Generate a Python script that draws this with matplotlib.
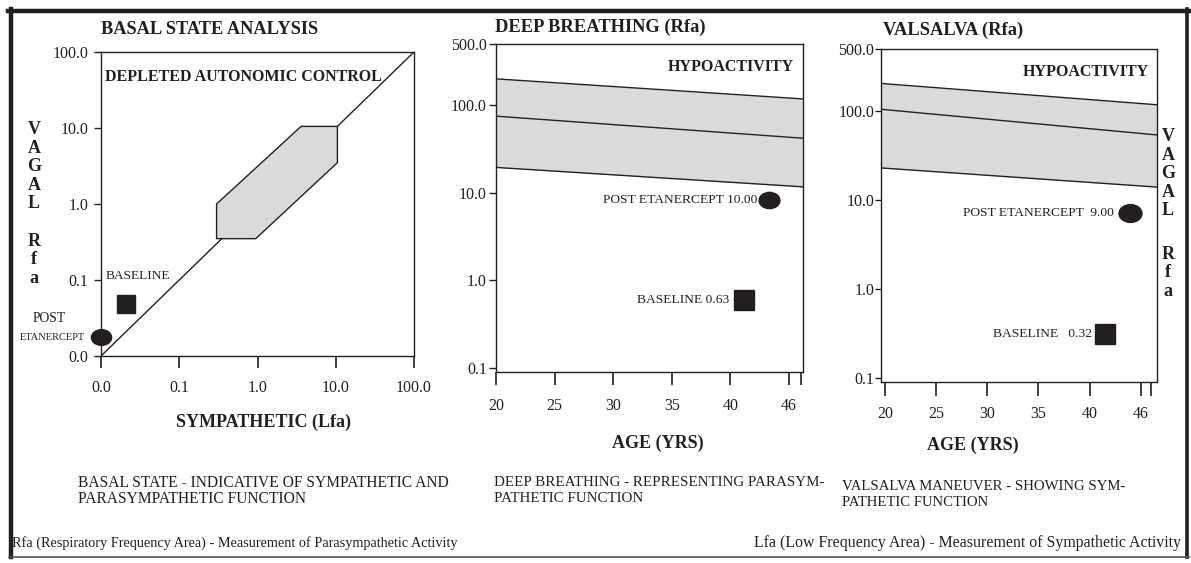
import matplotlib.pyplot as plt
from matplotlib.lines import Line2D
from matplotlib.path import Path
from matplotlib.ticker import NullLocator

plt.rcParams['font.family'] = ['Liberation Serif', 'DejaVu Serif']

W, H = 1191, 563
INK = '#231f20'
BAND = '#d9dadc'

# basal state (log-log, "0.0" is the 0.01 floor)
basal_ticks = [0.01, 0.1, 1.0, 10.0, 100.0]
basal_ticklabels = ['0.0', '0.1', '1.0', '10.0', '100.0']
identity_line = [0.01, 100.0]
normal_lfa = [0.3, 0.3, 0.95, 10.5, 10.5, 3.6]
normal_rfa = [1.0, 0.35, 0.35, 3.5, 10.5, 10.5]
basal_baseline = [0.021, 0.048]
basal_post = [0.01, 0.018]

# deep breathing / valsalva (Rfa vs age)
age_ticks = [20, 25, 30, 35, 40, 45, 46]
age_ticklabels = ['20', '25', '30', '35', '40', '46', '']
rfa_ticks = [0.1, 1.0, 10.0, 100.0, 500.0]
rfa_ticklabels = ['0.1', '1.0', '10.0', '100.0', '500.0']

deep_band_age = [20, 46.2]
deep_upper = [200, 118]
deep_mid = [75, 42]
deep_lower = [19.5, 11.7]
deep_age = [41.2, 43.3]
deep_rfa = [0.60, 8.2]
deep_values = [0.63, 10.00]

vals_band_age = [19.6, 46.6]
vals_upper = [205, 118]
vals_mid = [105, 54]
vals_lower = [23, 14]
vals_age = [41.5, 44.0]
vals_rfa = [0.31, 7.1]
vals_values = [0.32, 9.00]

circ = Path.unit_circle()
ellipse = Path(circ.vertices * [1.0, 0.78], circ.codes)


def fx(px):
    return px / W


def fy(py):
    return 1 - py / H


def axes_px(left, top, right, bottom):
    return fig.add_axes([fx(left), fy(bottom), (right - left) / W, (bottom - top) / H])


def style_axes(ax, ylen, xlen, ypad, xpad):
    for s in ax.spines.values():
        s.set_color(INK)
        s.set_linewidth(1.0)
    ax.xaxis.set_minor_locator(NullLocator())
    ax.yaxis.set_minor_locator(NullLocator())
    ax.tick_params(axis='y', direction='out', length=ylen, width=1, color=INK,
                   labelsize=11.5, labelcolor=INK, pad=ypad)
    ax.tick_params(axis='x', direction='out', length=xlen, width=1.2, color=INK,
                   labelsize=11.5, labelcolor=INK, pad=xpad)


def vagal(x, top, bottom):
    fig.text(fx(x), fy(top), '\n'.join('VAGAL'), ha='center', va='top', fontsize=13,
             fontweight='bold', color=INK, linespacing=1.12)
    fig.text(fx(x), fy(bottom), '\n'.join('Rfa'), ha='center', va='bottom', fontsize=13,
             fontweight='bold', color=INK, linespacing=1.12)


def caption(x, y, lines, size):
    # two caption lines, y = centre of first line in px
    for i, line in enumerate(lines):
        fig.text(fx(x), fy(y + 16 * i), line, ha='left', va='center', fontsize=size, color=INK)


fig = plt.figure(figsize=(W / 100, H / 100), dpi=100)

# frame
fig.add_artist(Line2D([fx(8), fx(1189)], [fy(10.5), fy(10.5)], transform=fig.transFigure, color=INK, lw=3.2))
fig.add_artist(Line2D([fx(10.5), fx(10.5)], [fy(9), fy(557)], transform=fig.transFigure, color=INK, lw=3.2))
fig.add_artist(Line2D([fx(1187), fx(1187)], [fy(9), fy(557)], transform=fig.transFigure, color=INK, lw=2.6))
fig.add_artist(Line2D([fx(9), fx(1189)], [fy(556.5), fy(556.5)], transform=fig.transFigure, color='#555555', lw=1.2))

# ---- basal state
ax1 = axes_px(101, 52, 414, 356)
ax1.set_xscale('log')
ax1.set_yscale('log')
ax1.set_xlim(0.01, 100)
ax1.set_ylim(0.01, 100)
ax1.plot(identity_line, identity_line, color=INK, lw=1, zorder=2)
ax1.fill(normal_lfa, normal_rfa, facecolor=BAND, edgecolor=INK, lw=1, zorder=3)
ax1.plot(basal_baseline[0], basal_baseline[1], marker='s', ms=13.5, color=INK, zorder=4)
ax1.plot(basal_post[0], basal_post[1], marker=ellipse, ms=14.5, color=INK, zorder=5, clip_on=False)
ax1.annotate('BASELINE', basal_baseline, xytext=(-15, 20), textcoords='offset points',
             ha='left', va='center', fontsize=9.6, color=INK)
ax1.annotate('POST', basal_post, xytext=(-37, 13), textcoords='offset points',
             ha='center', va='center', fontsize=9.8, color=INK, annotation_clip=False)
ax1.annotate('ETANERCEPT', basal_post, xytext=(-35, -0.5), textcoords='offset points',
             ha='center', va='center', fontsize=7.5, color=INK, annotation_clip=False)
ax1.set_xticks(basal_ticks, basal_ticklabels)
ax1.set_yticks(basal_ticks, basal_ticklabels)
style_axes(ax1, 5, 8.6, 4, 9)
ax1.text(0.013, 0.918, 'DEPLETED AUTONOMIC CONTROL', transform=ax1.transAxes, ha='left', va='center',
         fontsize=11.5, fontweight='bold', color=INK)
fig.text(fx(101), fy(30), 'BASAL STATE ANALYSIS', ha='left', va='center', fontsize=13.2,
         fontweight='bold', color=INK)
fig.text(fx(264), fy(422), 'SYMPATHETIC (Lfa)', ha='center', va='center', fontsize=13,
         fontweight='bold', color=INK)
vagal(34, 121, 287)


def age_panel(ax, band_age, upper, mid, lower, ages, rfas, values, labels, offs, esize, title, tpx):
    ax.set_yscale('log')
    ax.set_xlim(band_age[0], band_age[1])
    ax.set_ylim(0.09, 500)
    ax.fill_between(band_age, lower, upper, color=BAND, lw=0, zorder=1)
    for line in (upper, mid, lower):
        ax.plot(band_age, line, color=INK, lw=1, zorder=2)
    ax.plot(ages[0], rfas[0], marker='s', ms=13.8, color=INK, zorder=4)
    ax.plot(ages[1], rfas[1], marker=ellipse, ms=esize, color=INK, zorder=4)
    for i in range(2):
        ax.annotate(labels[i].format(values[i]), (ages[i], rfas[i]), xytext=(offs[i], 0),
                    textcoords='offset points', ha='right', va='center', fontsize=9.7, color=INK)
    ax.set_xticks(age_ticks, age_ticklabels)
    ax.set_yticks(rfa_ticks, rfa_ticklabels)
    ax.text(0.97, 0.955, 'HYPOACTIVITY', transform=ax.transAxes, ha='right', va='top',
            fontsize=11.5, fontweight='bold', color=INK)
    fig.text(fx(tpx[0]), fy(tpx[1]), title, ha='left', va='center', fontsize=13.3,
             fontweight='bold', color=INK)


# ---- deep breathing
ax2 = axes_px(496, 44, 803, 372)
age_panel(ax2, deep_band_age, deep_upper, deep_mid, deep_lower, deep_age, deep_rfa, deep_values,
          ['BASELINE {:.2f}', 'POST ETANERCEPT {:.2f}'], [-10.8, -8.6], 15,
          'DEEP BREATHING (Rfa)', (495, 27))
style_axes(ax2, 5, 9.4, 1.5, 9.5)
fig.text(fx(658), fy(443), 'AGE (YRS)', ha='center', va='center', fontsize=13,
         fontweight='bold', color=INK)

# ---- valsalva
ax3 = axes_px(881, 49, 1157, 382)
age_panel(ax3, vals_band_age, vals_upper, vals_mid, vals_lower, vals_age, vals_rfa, vals_values,
          ['BASELINE   {:.2f}', 'POST ETANERCEPT  {:.2f}'], [-9, -12.2], 16.5,
          'VALSALVA (Rfa)', (883, 30))
style_axes(ax3, 4, 10, 1, 7.5)
fig.text(fx(973), fy(445), 'AGE (YRS)', ha='center', va='center', fontsize=13,
         fontweight='bold', color=INK)
vagal(1168, 128, 300)

# captions
caption(78, 483, ['BASAL STATE - INDICATIVE OF SYMPATHETIC AND', 'PARASYMPATHETIC FUNCTION'], 11.2)
caption(494, 483, ['DEEP BREATHING - REPRESENTING PARASYM-', 'PATHETIC FUNCTION'], 10.8)
caption(842, 487, ['VALSALVA MANEUVER - SHOWING SYM-', 'PATHETIC FUNCTION'], 10.6)
fig.text(fx(12), fy(543), 'Rfa (Respiratory Frequency Area) - Measurement of Parasympathetic Activity',
         ha='left', va='center', fontsize=10.3, color=INK)
fig.text(fx(1181), fy(543), 'Lfa (Low Frequency Area) - Measurement of Sympathetic Activity',
         ha='right', va='center', fontsize=11.4, color=INK)

fig.savefig('out.png', dpi=100, facecolor='white')
